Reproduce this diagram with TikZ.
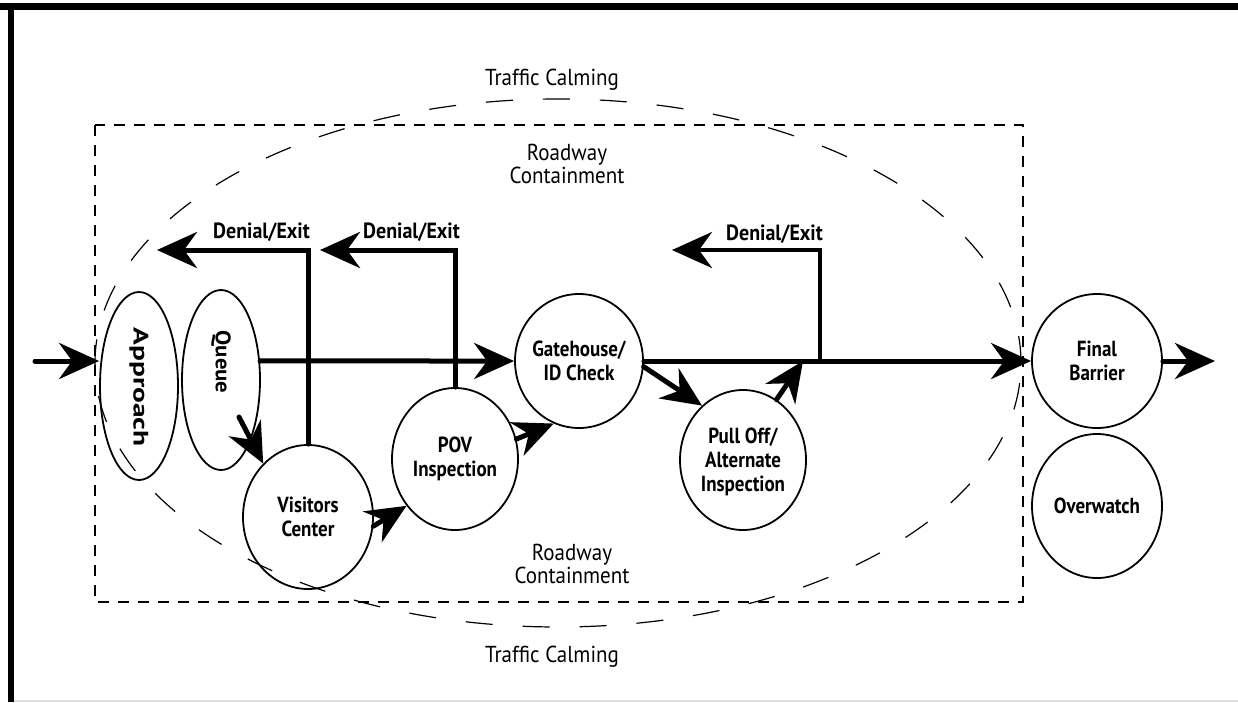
\documentclass[tikz,border=0pt]{standalone}
\usepackage{graphicx}
\usepackage{fontspec}
\setmainfont{PT Sans}
\usetikzlibrary{shapes.geometric,arrows.meta,calc}
\newcommand{\longtext}[2]{\scalebox{#1}[1]{#2}}
\begin{document}
\begin{tikzpicture}[x=1pt,y=-1pt,
  stage/.style={ellipse, draw, line width=1.8pt, inner sep=0pt},
  stagetext/.style={align=center, inner sep=0pt, yscale=1.15, font=\bfseries\fontsize{19}{21}\selectfont},
  sidetext/.style={inner sep=0pt, rotate=-90, font=\bfseries\fontsize{21}{24}\selectfont},
  flow/.style={line width=5pt, line cap=round, -{Stealth[length=40pt,width=36pt,inset=13pt]}},
  zonelbl/.style={align=center, yscale=1.1, font=\fontsize{21}{21}\selectfont},
  exitlbl/.style={anchor=base east, inner sep=0pt, yscale=1.1, font=\bfseries\fontsize{20}{22}\selectfont},
]
\useasboundingbox (0,0) rectangle (1238,702);
\fill[white] (0,0) rectangle (1238,702);

% page frame
\fill[black] (0,3) rectangle (1238,10);
\fill[black] (8,3) rectangle (14,702);
\draw[black!12, line width=1.5pt] (14,701) -- (1238,701);

% containment and calming zones
\draw[line width=1.4pt, dash pattern=on 11pt off 9pt] (95,125) rectangle (1023,602);
\draw[line width=1.2pt, dash pattern=on 27pt off 30pt] (558,363) ellipse [x radius=463pt, y radius=264pt];

\node[zonelbl] (tctop) at (552,80) {Traffic Calming};
\node[zonelbl] (tcbot) at (552,657) {Traffic Calming};
\node[zonelbl] (rctop) at (567,164) {Roadway\\Containment};
\node[zonelbl] (rcbot) at (572,564) {Roadway\\Containment};

% stages
\node[stage, minimum width=78pt, minimum height=188pt] (approach) at (139,386) {};
\node[sidetext] (approachtxt) at (139,387) {\longtext{1.4}{Approach}};
\node[stage, minimum width=78pt, minimum height=180pt] (queue) at (221,380) {};
\node[sidetext] (queuetxt) at (221,362) {\longtext{1.08}{Queue}};
\node[stage, minimum width=130pt, minimum height=144pt] (visitors) at (308,517) {};
\node[stagetext] (visitorstxt) at (308,517) {Visitors\\Center};
\node[stage, minimum width=126pt, minimum height=142pt] (pov) at (455,459) {};
\node[stagetext] (povtxt) at (455,459) {POV\\Inspection};
\node[stage, minimum width=128pt, minimum height=134pt] (gate) at (579,361) {};
\node[stagetext] (gatetxt) at (579,361) {Gatehouse/\\ID Check};
\node[stage, minimum width=126pt, minimum height=140pt] (pull) at (743,460) {};
\node[stagetext] (pulltxt) at (743,462) {Pull Off/\\Alternate\\Inspection};
\node[stage, minimum width=130pt, minimum height=134pt] (final) at (1097,361) {};
\node[stagetext] (finaltxt) at (1097,361) {Final\\Barrier};
\node[stage, minimum width=130pt, minimum height=144pt] (overwatch) at (1097,506) {};
\node[stagetext] (overwatchtxt) at (1097,506) {Overwatch};

% free ends of the flow
\coordinate (entry) at (35,361);
\coordinate (leave) at (1215,361);
\coordinate (merge) at (803,361);
\coordinate (junction) at (820,361);
\coordinate (exitA) at (157,250);
\coordinate (exitB) at (320,250);
\coordinate (exitC) at (672,250);

% main flow
\draw[flow] (entry) -- (entry -| approach.west);
\draw[flow] (queue.26.6) -- (gate.west);
\draw[flow] (gate.east) -- (final.west);
\draw[flow] (final.east) -- (leave);

% side flows
\draw[flow] ($(queue.center)+(18,37)$) -- (visitors.130);
\draw[flow] (visitors.-8) -- (pov.224);
\draw[flow] (pov.18) -- (gate.248);
\draw[flow] (gate.-5) -- (pull.127);
\draw[flow] (pull.61) -- (merge);

% denial / exit routes
\draw[flow] (visitors.north) |- (exitA);
\draw[flow] (pov.north) |- (exitB);
\draw[flow, line width=4pt] (junction) |- (exitC);
\node[exitlbl] (exitAlbl) at (310,238) {Denial/Exit};
\node[exitlbl] (exitBlbl) at (460,238) {Denial/Exit};
\node[exitlbl] (exitClbl) at (823,240) {Denial/Exit};
\end{tikzpicture}
\end{document}
